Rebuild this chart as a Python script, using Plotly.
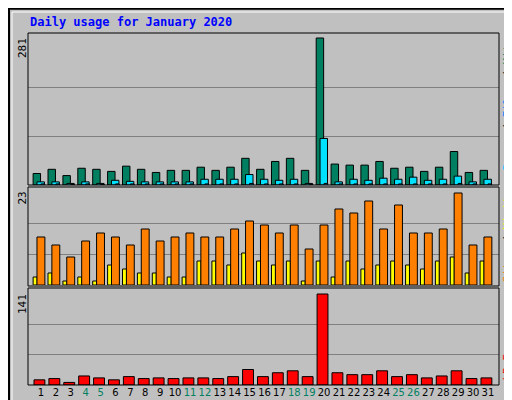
import plotly.graph_objects as go

days = list(range(1, 32))
hits = [22,30,18,32,30,26,36,30,24,28,28,34,28,34,51,30,45,51,28,281,40,38,38,45,32,34,26,34,64,24,28]
files = [6,6,3,6,3,9,7,6,6,6,6,11,11,11,20,11,9,11,3,89,6,11,9,13,11,15,9,11,17,6,11]
pages = [2,2,1,2,1,2,2,2,2,2,2,2,2,2,3,2,2,2,1,3,2,2,2,2,2,2,2,2,3,2,2]
visits = [12,10,7,11,13,12,10,14,11,12,13,12,12,14,16,15,13,15,9,15,19,18,21,14,20,13,13,14,23,10,12]
sites = [2,3,1,2,1,5,4,3,3,2,2,6,6,5,8,6,5,6,1,6,2,6,4,5,6,5,4,6,7,3,6]
kbytes = [8,10,4,14,11,8,13,10,11,10,11,11,10,13,24,13,19,22,13,141,19,16,16,22,13,16,11,14,22,10,11]
weekend = {4,5,11,12,18,19,25,26}

W, H = 512, 400
def py(p): return 1 - p / H
def px(p): return p / W

fig = go.Figure()
line = dict(color="black", width=1)
def bar(y, color, off, wid, xa, ya):
    fig.add_trace(go.Bar(x=days, y=y, offset=off, width=wid, marker=dict(color=color, line=line),
                         xaxis=xa, yaxis=ya, showlegend=False, hoverinfo="skip"))

bar(hits, "#008060", -0.53, 0.5, "x", "y")
bar(files, "#00E0FF", -0.27, 0.5, "x", "y")
bar(pages, "#00C0FF", 0.0, 0.25, "x", "y")
bar(sites, "#FFFF00", -0.53, 0.27, "x2", "y2")
bar(visits, "#FF8000", -0.27, 0.53, "x2", "y2")
bar(kbytes, "#FF0000", -0.47, 0.73, "x3", "y3")

xr = [0.127, 31.74]
xdom = [px(20), px(491)]
ticktext = [f"<span style='color:#008060'>{d}</span>" if d in weekend else str(d) for d in days]
common_x = dict(range=xr, domain=xdom, showgrid=False, zeroline=False, showline=False, automargin=False)
cy = dict(showticklabels=False, gridcolor="#808080", zeroline=False, automargin=False)
fig.update_layout(
    width=W, height=H, margin=dict(l=0, r=0, t=0, b=0, autoexpand=False),
    paper_bgcolor="#C0C0C0", plot_bgcolor="#C0C0C0", barmode="overlay",
    font=dict(family="DejaVu Sans Mono", size=11, color="black"),
    xaxis=dict(**common_x, showticklabels=False, anchor="y"),
    xaxis2=dict(**common_x, showticklabels=False, anchor="y2"),
    xaxis3=dict(**common_x, anchor="y3", tickvals=days, ticktext=ticktext, ticks="", tickangle=0,
                tickfont=dict(family="DejaVu Sans", size=10)),
    yaxis=dict(domain=[py(177), py(25)], range=[0, 281*152/147], tickvals=[281/3, 562/3], **cy),
    yaxis2=dict(domain=[py(277), py(180)], range=[0, 23*97/92], tickvals=[23/3, 46/3], **cy),
    yaxis3=dict(domain=[py(377), py(281)], range=[0, 141*96/91], tickvals=[47, 94], **cy),
)
shapes = [
    dict(type="rect", xref="paper", yref="paper", x0=0.002, x1=0.998, y0=0.002, y1=0.998,
         line=dict(color="black", width=2)),
    dict(type="line", xref="paper", yref="paper", x0=px(4), x1=px(4), y0=py(396), y1=py(4),
         line=dict(color="white", width=1)),
    dict(type="line", xref="paper", yref="paper", x0=px(4), x1=px(508), y0=py(4), y1=py(4),
         line=dict(color="white", width=1)),
    dict(type="line", xref="paper", yref="paper", x0=px(508), x1=px(508), y0=py(396), y1=py(4),
         line=dict(color="#808080", width=2)),
    dict(type="line", xref="paper", yref="paper", x0=px(4), x1=px(508), y0=py(396), y1=py(396),
         line=dict(color="#808080", width=2)),
]
for t, b in [(25, 177), (179, 278), (280, 377)]:
    shapes.append(dict(type="rect", xref="paper", yref="paper", x0=px(20), x1=px(491),
                       y0=py(b), y1=py(t), line=dict(color="black", width=1)))
fig.update_layout(shapes=shapes)

mono = "DejaVu Sans Mono"
def a(x, y, text, angle=0, xa="center", ya="top", color="black", size=11):
    return dict(x=px(x), y=py(y), xref="paper", yref="paper", text=text, textangle=angle,
                showarrow=False, xanchor=xa, yanchor=ya, font=dict(family=mono, size=size, color=color))
ann = [
    a(20, 14, "<b>Daily usage for January 2020</b>", xa="left", ya="middle", color="#0000FF", size=12),
    a(14, 28, "281", -90),
    a(14, 182, "23", -90),
    a(14, 284, "141", -90),
    a(499, 28, "<span style='color:#00C0FF'>Pages</span> / <span style='color:#0080FF'>Files</span> / <span style='color:#008060'>Hits</span>", -90),
    a(499, 180, "<span style='color:#FF8000'>Sites</span> / <span style='color:#FFFF00'>Visits</span>", -90),
    a(499, 375, "<span style='color:#FF0000'>kB F</span>", -90, ya="bottom"),
]
fig.update_layout(annotations=ann)
fig.write_html("out.html")
